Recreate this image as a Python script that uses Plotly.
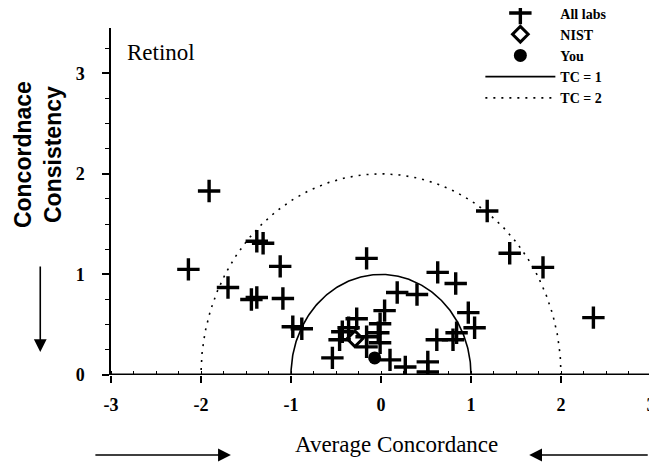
import numpy as np
import plotly.graph_objects as go

# ---- data ----
labs_x = [-2.14, -1.91, -1.70, -1.38, -1.31, -1.12, -1.44, -1.38, -1.09, -0.98,
          -0.88, -0.16, -0.54, -0.27, -0.43, -0.46, -0.16, -0.03, -0.01, -0.16,
          0.04, -0.01, 0.10, 0.27, 0.52, 0.52, 0.18, 0.40, 0.63, 0.83,
          0.97, 1.04, 0.62, 0.80, 0.84, 1.18, 1.43, 1.80, 2.36, -0.36]
labs_y = [1.05, 1.83, 0.87, 1.33, 1.31, 1.08, 0.75, 0.77, 0.76, 0.48,
          0.46, 1.16, 0.17, 0.56, 0.43, 0.35, 0.38, 0.42, 0.32, 0.28,
          0.64, 0.51, 0.15, 0.08, 0.13, 0.03, 0.82, 0.80, 1.02, 0.91,
          0.62, 0.47, 0.35, 0.35, 0.42, 1.63, 1.21, 1.07, 0.57, 0.47]
nist_x = [-0.29]
nist_y = [0.36]
you_x = [-0.07]
you_y = [0.17]
tc_levels = [1, 2]
tc_names = ["TC = 1", "TC = 2"]
x_ticks = [-3, -2, -1, 0, 1, 2, 3]
y_ticks = [0, 1, 2, 3]

serif = "Liberation Serif"

fig = go.Figure()
fig.add_trace(go.Scatter(
    x=labs_x, y=labs_y, mode="markers", name="All labs",
    marker=dict(symbol="cross-thin", size=16, color="black",
                line=dict(color="black", width=3.4))))
fig.add_trace(go.Scatter(
    x=nist_x, y=nist_y, mode="markers", name="NIST",
    marker=dict(symbol="diamond-open", size=12, color="black",
                line=dict(color="black", width=3))))
fig.add_trace(go.Scatter(
    x=you_x, y=you_y, mode="markers", name="You",
    marker=dict(symbol="circle", size=13, color="black")))

theta = np.linspace(0, np.pi, 181)
for r, nm, dash in zip(tc_levels, tc_names, ["solid", "2px,6px"]):
    fig.add_trace(go.Scatter(
        x=r * np.cos(theta), y=r * np.sin(theta), mode="lines", name=nm,
        line=dict(color="black", width=1.6, dash=dash), hoverinfo="skip"))

# the page body has an 8px margin, so the figure is drawn 8px smaller
fig.update_layout(
    width=649, height=462,
    margin=dict(l=103, r=6, t=20, b=95, autoexpand=False),
    paper_bgcolor="white", plot_bgcolor="white",
    font=dict(family=serif, color="black"),
    showlegend=True,
    legend=dict(x=0.684, y=1.088, xanchor="left", yanchor="top",
                bgcolor="rgba(0,0,0,0)", tracegroupgap=0,
                font=dict(family=serif, size=14, color="black", weight="bold"),
                itemwidth=70),
)
fig.update_xaxes(
    range=[-3, 3.0], tickvals=x_ticks, ticktext=[str(v) for v in x_ticks],
    showgrid=False, zeroline=False, showline=False, automargin=False,
    ticks="outside", ticklen=7, tickwidth=1.5, tickcolor="black",
    tickfont=dict(family=serif, size=18, color="black", weight="bold"),
    ticklabelstandoff=6,
    minor=dict(dtick=0.25, ticks="inside", ticklen=4, tickwidth=1.2, tickcolor="black", showgrid=False),
)
fig.update_yaxes(
    range=[0, 3.45], tickvals=y_ticks, ticktext=[str(v) for v in y_ticks],
    showgrid=False, zeroline=False, showline=True, linecolor="black", linewidth=1.5,
    automargin=False,
    ticks="outside", ticklen=7, tickwidth=1.5, tickcolor="black",
    tickfont=dict(family=serif, size=18, color="black", weight="bold"),
    ticklabelstandoff=14,
    minor=dict(dtick=0.25, ticks="outside", ticklen=4, tickwidth=1.2, tickcolor="black", showgrid=False),
)
# x axis baseline at y = 0 (thick)
fig.add_hline(y=0, line=dict(color="black", width=3))

fig.add_annotation(x=0.025, y=0.97, xref="paper", yref="paper", xanchor="left", yanchor="top",
                   text="Retinol", showarrow=False,
                   font=dict(family=serif, size=23, color="black"))
fig.add_annotation(x=0.529, y=-0.199, xref="paper", yref="paper",
                   xanchor="center", yanchor="middle",
                   text="Average Concordance", showarrow=False,
                   font=dict(family=serif, size=23, color="black"))
fig.add_annotation(x=-0.135, y=0.634, xref="paper", yref="paper",
                   xanchor="center", yanchor="middle",
                   text="Concordnace<br>Consistency", showarrow=False, textangle=-90,
                   font=dict(family="Liberation Sans", size=23, color="black", weight="bold"))
# direction arrows
arrow = dict(showarrow=True, arrowhead=2, arrowsize=1.6, arrowwidth=1.6, arrowcolor="black",
             xref="paper", yref="paper", axref="pixel", ayref="pixel", text="")
fig.add_annotation(x=0.222, y=-0.2305, ax=-137, ay=0, **arrow)
fig.add_annotation(x=0.7745, y=-0.2305, ax=120, ay=0, **arrow)
fig.add_annotation(x=-0.131, y=0.066, ax=0, ay=-87, **arrow)

fig.write_html("out.html")
